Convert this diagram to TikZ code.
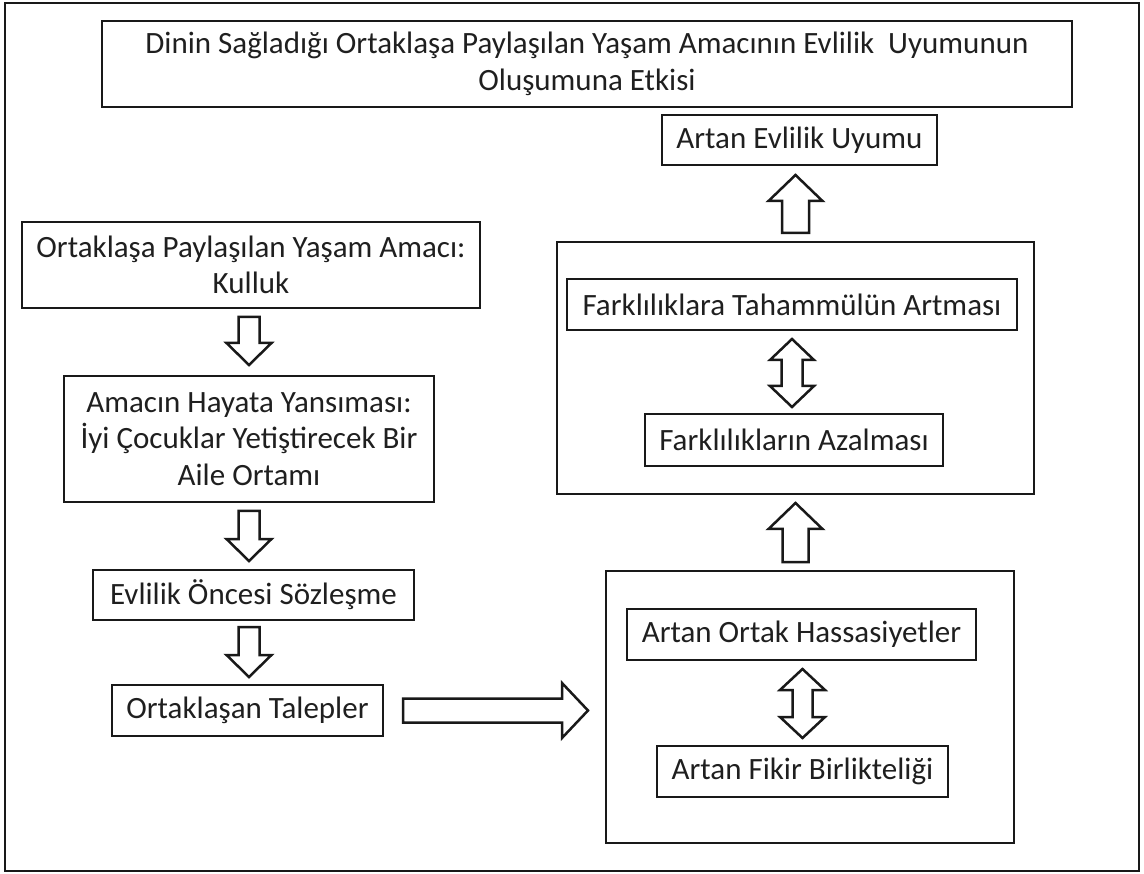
\documentclass[tikz,border=0pt]{standalone}
\usepackage{fontspec}
\setmainfont{Carlito}
\usetikzlibrary{calc}
\newcommand\blkarrow[5]{% #1 tail, #2 rotation, #3 length, #4 shaft w, #5 head w
  \draw[barrow, shift={(#1)}, rotate=#2]
    (0,-#4/2) -- ({#3-\hl},-#4/2) -- ({#3-\hl},-#5/2) -- (#3,0) -- ({#3-\hl},#5/2) -- ({#3-\hl},#4/2) -- (0,#4/2) -- cycle;}
\newcommand\dblarrow[5]{% #1 start, #2 rotation, #3 length, #4 shaft w, #5 head w
  \draw[barrow, shift={(#1)}, rotate=#2]
    (0,0) -- (\hl,-#5/2) -- (\hl,-#4/2) -- ({#3-\hl},-#4/2) -- ({#3-\hl},-#5/2) -- (#3,0) -- ({#3-\hl},#5/2) -- ({#3-\hl},#4/2) -- (\hl,#4/2) -- (\hl,#5/2) -- cycle;}
\def\hl{24}
\begin{document}
\begin{tikzpicture}[x=1pt,y=-1pt,
  box/.style={draw=black!90, line width=2.8pt, inner sep=0pt, outer sep=0pt, align=center,
    font=\fontsize{31}{36.5}\selectfont, text=black!88},
  frame/.style={draw=black!90, line width=2.8pt, inner sep=0pt, outer sep=0pt},
  barrow/.style={draw=black!90, line width=2.5pt, fill=white, line join=miter}
]
\useasboundingbox (0,0) rectangle (1144,874);
\node[frame, minimum width=1134, minimum height=868] (outer) at (572,437) {};
% title
\node[box, minimum width=970, minimum height=86] (title) at (587,64)
  {Dinin Sağladığı Ortaklaşa Paylaşılan Yaşam Amacının Evlilik~ Uyumunun\\Oluşumuna Etkisi};
% right column
\node[box, minimum width=275, minimum height=50] (evl) at (799.5,140) {Artan Evlilik Uyumu};
\node[frame, minimum width=477, minimum height=252] (ru) at (795.5,368) {};
\node[box, minimum width=450, minimum height=51] (fark1) at (792,304.5) {Farklılıklara Tahammülün Artması};
\node[box, minimum width=298, minimum height=52] (fark2) at (794,440) {Farklılıkların Azalması};
\node[frame, minimum width=408, minimum height=272] (rl) at (810,707) {};
\node[box, minimum width=349, minimum height=51] (ortak) at (801.5,634.5) {Artan Ortak Hassasiyetler};
\node[box, minimum width=291, minimum height=51] (fikir) at (802.5,771.5) {Artan Fikir Birlikteliği};
% left column
\node[box, minimum width=458, minimum height=86] (b1) at (251,265)
  {Ortaklaşa Paylaşılan Yaşam Amacı:\\Kulluk};
\node[box, minimum width=370, minimum height=126] (b2) at (249,439)
  {Amacın Hayata Yansıması:\\İyi Çocuklar Yetiştirecek Bir\\Aile Ortamı};
\node[box, minimum width=321, minimum height=50] (b3) at (253.5,595) {Evlilik Öncesi Sözleşme};
\node[box, minimum width=271, minimum height=51] (b4) at (247.5,710.5) {Ortaklaşan Talepler};
% coordinates for block arrows
\coordinate (aA) at ($(ru.north)+(0,-9)$);
\coordinate (aB) at ($(ru.south |- rl.north)+(0,-9)$);
\coordinate (d1) at ($(fark1.south)+(0,9)$);
\coordinate (d2) at ($(ortak.south)+(1,9)$);
\coordinate (l1) at ($(b2.north |- b1.south)+(0,9)$);
\coordinate (l2) at ($(b2.south)+(0,9)$);
\coordinate (l3) at ($(b2.south |- b3.south)+(0,7)$);
\coordinate (r1) at ($(b4.east)+(20,0)$);
% arrows
\def\hl{26}
\blkarrow{aA}{90}{58}{27}{54}
\blkarrow{aB}{90}{59}{26}{54}
\def\hl{21}
\dblarrow{d1}{-90}{68}{21}{44}
\dblarrow{d2}{-90}{69}{20}{45}
\def\hl{22}
\blkarrow{l1}{-90}{48}{21}{45}
\blkarrow{l2}{-90}{50}{21}{45}
\blkarrow{l3}{-90}{50}{21}{45}
\def\hl{26}
\blkarrow{r1}{0}{185}{24}{55}
\end{tikzpicture}
\end{document}
